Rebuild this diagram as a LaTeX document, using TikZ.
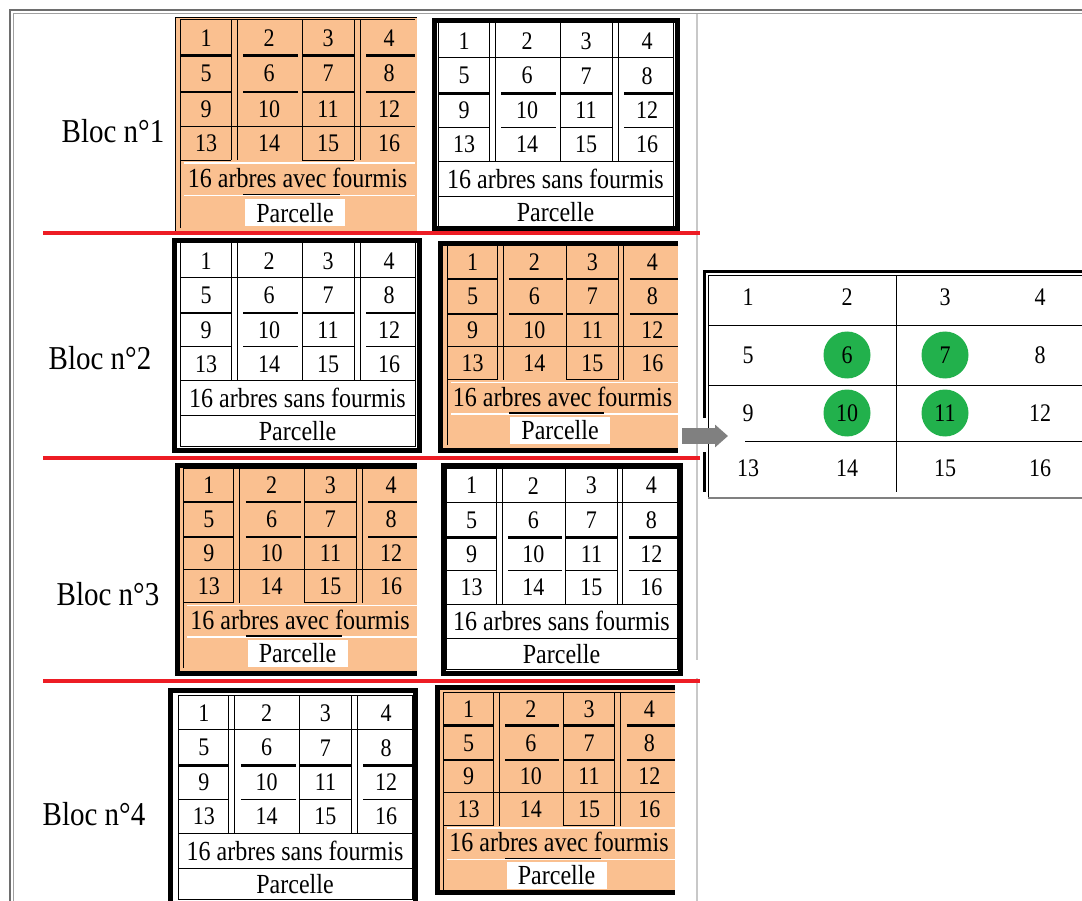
\documentclass[tikz,border=0pt]{standalone}
\usepackage{fontspec}
\setmainfont{Liberation Serif}
\usetikzlibrary{arrows.meta}
\definecolor{orng}{HTML}{FAC090}
\definecolor{redl}{HTML}{ED1C24}
\definecolor{grn}{HTML}{22B14C}
\definecolor{arrg}{HTML}{808080}
\definecolor{framegray}{HTML}{6E6E6E}
\definecolor{lightgray}{HTML}{C8C8C8}
\newcommand\T[1]{\scalebox{1}[1.15]{#1}}
\tikzset{
 num/.style={inner sep=0pt, font=\fontsize{22}{24}\selectfont},
 lab/.style={inner sep=0pt, font=\fontsize{24}{26}\selectfont},
 bloc/.style={inner sep=0pt, font=\fontsize{29}{31}\selectfont},
 thinl/.style={line width=1pt},
 thk/.style={line width=2.4pt},
 border/.style={line width=5pt, line join=miter},
 redline/.style={draw=redl, line width=4.5pt},
 hit/.style={circle, fill=grn, minimum size=47pt, inner sep=0pt},
 pbox/.style={lab, fill=white, minimum width=100pt, minimum height=27pt},
}
\newcommand\cells[1]{%
 \foreach \r/\cy in {0/18,1/53,2/88,3/122}{%
  \foreach \c/\cx in {0/26,1/89,2/148,3/209}{%
   \pgfmathtruncatemacro\n{4*\r+\c+1}%
   \node[num] (#1-\n) at (\cx,\cy) {\T{\n}};
  }}%
}
\newcommand\vlines{%
 \draw[thinl] (51,0)--(51,139) (57,0)--(57,139) (122,0)--(122,139)
   (174,0)--(174,139) (180,0)--(180,139);
}
\newcommand\segs[2]{%
 \draw[#1] (0,#2)--(51,#2) (63,#2)--(118,#2) (122,#2)--(174,#2) (186,#2)--(235,#2);
}
\newcommand\parcelW[5]{%
 \begin{scope}[shift={(#2,#3)}, xscale=#4, yscale=#5]
  \draw[thinl] (0,0) rectangle (235,206);
  \draw[thinl] (0,35)--(235,35) (0,139)--(235,139) (0,174)--(235,174);
  \segs{thk}{71}
  \segs{thinl}{105}
  \vlines
  \cells{#1}
  \node[lab] (#1-arb) at (117.5,156.5) {\T{16 arbres sans fourmis}};
  \node[lab] (#1-parc) at (117.5,190) {\T{Parcelle}};
 \end{scope}
}
\newcommand\parcelO[5]{%
 \begin{scope}[shift={(#2,#3)}, xscale=#4, yscale=#5]
  \draw[thinl] (0,206)--(0,0)--(235,0);
  \segs{thk}{35}
  \segs{thk}{71}
  \draw[thinl] (0,105)--(235,105);
  \draw[thinl] (0,139)--(51,139) (122,139)--(174,139);
  \draw[white, line width=1.2pt] (4,141.5)--(235,141.5) (4,174)--(235,174);
  \draw[line width=1.5pt] (63,173)--(160,173);
  \vlines
  \cells{#1}
  \node[lab] (#1-arb) at (117.5,156.5) {\T{16 arbres avec fourmis}};
  \node[pbox] (#1-parc) at (115,191) {\T{Parcelle}};
 \end{scope}
}
\begin{document}
\begin{tikzpicture}[x=1pt, y=-1pt]
\useasboundingbox (0,0) rectangle (1082,901);
\fill[white] (0,0) rectangle (1082,901);
% outer frame
\draw[framegray, line width=2pt] (10,901)--(10,10)--(1082,10);
\draw[lightgray!80!black, line width=1pt] (13.5,901)--(13.5,13.5)--(1082,13.5);
\draw[lightgray, line width=1.5pt] (697,14)--(697,660) (697,678)--(697,901);
% orange fills
\fill[orng] (175,18) rectangle (417,231);
\fill[orng] (440,244) rectangle (678,450);
\fill[orng] (177.5,465.5) rectangle (417,673.5);
\fill[orng] (437.5,687.5) rectangle (675,892.5);
\draw[thinl] (175.5,231)--(175.5,18)--(417,18);
% parcels
\parcelO{pa}{180}{20}{1}{1.01}
\parcelW{pb}{438}{23}{1}{0.995}
\parcelW{pc}{180}{243}{1}{0.99}
\parcelO{pd}{447}{245}{0.983}{0.971}
\parcelO{pe}{183}{468}{0.996}{0.971}
\parcelW{pf}{446}{468}{0.983}{0.98}
\parcelW{pg}{178}{695}{0.996}{0.995}
\parcelO{ph}{443}{692}{0.987}{0.961}
% thick borders
\draw[border] (434.5,20.5) rectangle (677,229);
\draw[border] (174.5,241) rectangle (419,450.5);
\draw[border] (678,244)--(440,244)--(440,450)--(678,450);
\draw[border] (417,465.5)--(177.5,465.5)--(177.5,673.5)--(417,673.5);
\draw[border] (443,465.5) rectangle (680.5,673);
\draw[border] (170.5,910)--(170.5,690)--(415.5,690)--(415.5,910);
\draw[border] (675,687.5)--(437.5,687.5)--(437.5,892.5)--(675,892.5);
% red separators
\draw[redline] (43,233)--(700,233);
\draw[redline] (43,458)--(700,458);
\draw[redline] (43,681)--(700,681);
% bloc labels
\node[bloc] (b1) at (113,131) {\T{Bloc n°1}};
\node[bloc] (b2) at (100,358) {\T{Bloc n°2}};
\node[bloc] (b3) at (108,594) {\T{Bloc n°3}};
\node[bloc] (b4) at (94,814) {\T{Bloc n°4}};
% enlarged table
\draw[line width=2.5pt] (704.5,418)--(704.5,271.5)--(1082,271.5);
\draw[line width=2.5pt] (704.5,452)--(704.5,492);
\draw[thinl] (708.5,498)--(708.5,275.5)--(1082,275.5);
\draw[gray, line width=1.5pt] (708,498)--(1082,498);
\draw[thinl] (708,326)--(1082,326) (708,385)--(1082,385) (745,441)--(1082,441)
  (896,276)--(896,492);
\node[hit] (g6) at (847,355) {};
\node[hit] (g7) at (945,355) {};
\node[hit] (g10) at (847,413) {};
\node[hit] (g11) at (945,413) {};
\foreach \r/\cy in {0/297,1/355,2/413,3/468}{%
 \foreach \c/\cx in {0/748,1/847,2/945,3/1040}{%
  \pgfmathtruncatemacro\n{4*\r+\c+1}%
  \node[num] (t-\n) at (\cx,\cy) {\T{\n}};
 }}
% arrow
\coordinate (aS) at (682,436);
\coordinate (aE) at (728,436);
\draw[arrg, line width=16pt, -{Triangle[length=13pt,width=22pt]}] (aS)--(aE);
\end{tikzpicture}
\end{document}
